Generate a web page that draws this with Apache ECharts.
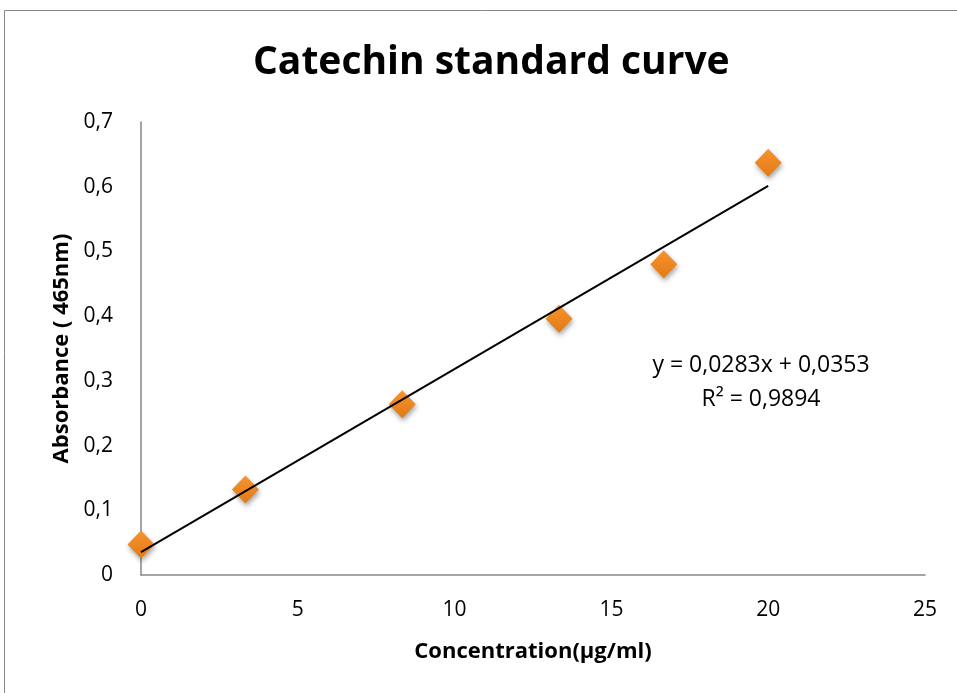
<!DOCTYPE html>
<html>
<head>
<meta charset="utf-8">
<script src="https://cdn.jsdelivr.net/npm/echarts@6/dist/echarts.min.js"></script>
<style>
html,body{margin:0;padding:0;background:#fff;}
#chart{width:957px;height:693px;}
</style>
</head>
<body>
<div id="chart"></div>
<script>
// Data
const concentration = [0, 3.33, 8.33, 13.33, 16.67, 20];
const absorbance = [0.047, 0.132, 0.264, 0.396, 0.480, 0.637];
const trendSlope = 0.0283;
const trendIntercept = 0.0353;
const equationLines = ['y = 0,0283x + 0,0353', 'R² = 0,9894'];
const titleText = 'Catechin standard curve';
const xAxisName = 'Concentration(µg/ml)';
const yAxisName = 'Absorbance ( 465nm)';

const FONT = '"Open Sans", sans-serif';
const points = concentration.map((x, i) => [x, absorbance[i]]);
const xMin = Math.min(...concentration), xMax = Math.max(...concentration);
const trend = [[xMin, trendIntercept + trendSlope * xMin], [xMax, trendIntercept + trendSlope * xMax]];
const fmt = v => v === 0 ? '0' : (Number.isInteger(v) ? String(v) : v.toFixed(1).replace('.', ','));

const chart = echarts.init(document.getElementById('chart'), null, {renderer: 'canvas'});
chart.setOption({
  animation: false,
  backgroundColor: '#fff',
  title: {
    text: titleText, left: 248, top: 38,
    textStyle: {fontFamily: FONT, fontWeight: 'bold', fontSize: 39, color: '#000'}
  },
  graphic: [
    {type: 'rect', shape: {x: 4.5, y: 10.5, width: 970, height: 700}, style: {fill: 'none', stroke: '#868686', lineWidth: 1}, silent: true},
    {type: 'text', x: 761, y: 354, style: {text: equationLines[0], fontFamily: FONT, fontSize: 23, fill: '#000', align: 'center', verticalAlign: 'top'}},
    {type: 'text', x: 761, y: 388, style: {text: equationLines[1], fontFamily: FONT, fontSize: 23, fill: '#000', align: 'center', verticalAlign: 'top'}}
  ],
  grid: {left: 141, right: 32, top: 122, bottom: 118, containLabel: false},
  xAxis: {
    type: 'value', min: 0, max: 25, interval: 5,
    name: xAxisName, nameLocation: 'middle', nameGap: 66,
    nameTextStyle: {fontFamily: FONT, fontWeight: 'bold', fontSize: 22, color: '#000'},
    axisLine: {show: true, lineStyle: {color: '#868686', width: 1.5}},
    axisTick: {show: false},
    splitLine: {show: false},
    axisLabel: {fontFamily: FONT, fontSize: 21, color: '#000', margin: 25, formatter: fmt}
  },
  yAxis: {
    type: 'value', min: 0, max: 0.7, interval: 0.1,
    name: yAxisName, nameLocation: 'middle', nameGap: 67, nameRotate: 90,
    nameTextStyle: {fontFamily: FONT, fontWeight: 'bold', fontSize: 22, color: '#000'},
    axisLine: {show: true, lineStyle: {color: '#868686', width: 1.5}},
    axisTick: {show: false},
    splitLine: {show: false},
    axisLabel: {fontFamily: FONT, fontSize: 21, color: '#000', margin: 28, formatter: fmt}
  },
  series: [
    {
      type: 'line', data: trend, symbol: 'none', silent: true, z: 3,
      lineStyle: {color: '#000', width: 2}
    },
    {
      type: 'scatter', data: points, symbol: 'diamond', symbolSize: [27, 28], z: 2,
      itemStyle: {
        color: new echarts.graphic.LinearGradient(0, 0, 0, 1, [
          {offset: 0, color: '#F7932D'}, {offset: 1, color: '#E27A16'}
        ]),
        opacity: 1,
        shadowBlur: 5, shadowOffsetY: 3, shadowOffsetX: 1, shadowColor: 'rgba(0,0,0,0.35)'
      }
    }
  ]
});
</script>
</body>
</html>
